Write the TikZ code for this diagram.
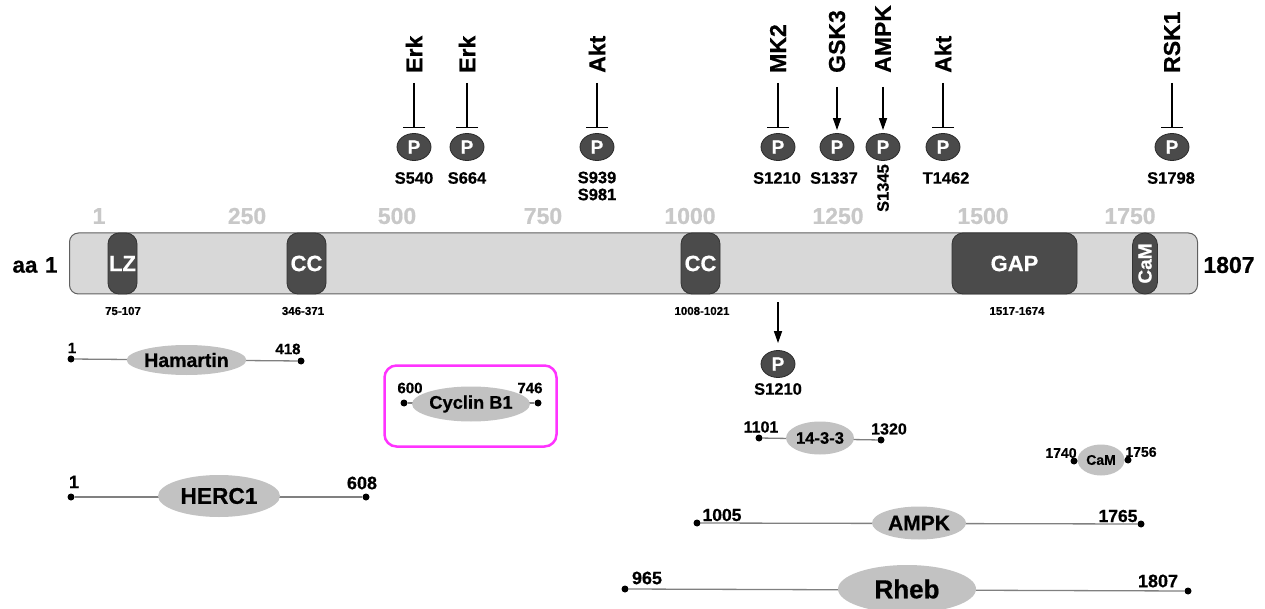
\documentclass[tikz,border=0pt]{standalone}
\usepackage{fontspec}
\setmainfont{Liberation Sans}[BoldFeatures={FakeBold=0.6}]
\usetikzlibrary{shapes.geometric,arrows.meta,backgrounds}
\newcommand\FS[1]{\fontsize{#1}{#1}\selectfont\bfseries}
\definecolor{barfill}{HTML}{D8D8D8}
\definecolor{bardraw}{HTML}{606060}
\definecolor{domfill}{HTML}{4B4B4B}
\definecolor{domdraw}{HTML}{333333}
\definecolor{pfill}{HTML}{4A4A4A}
\definecolor{pdraw}{HTML}{2A2A2A}
\definecolor{scalegray}{HTML}{C8C8C8}
\definecolor{linegray}{HTML}{808080}
\definecolor{ellgray}{HTML}{C2C2C2}
\definecolor{boxmag}{HTML}{FF33FF}
\begin{document}
\begin{tikzpicture}[x=1pt,y=-1pt,
  txt/.style={inner sep=0pt, font=\FS{#1}},
  dom/.style={draw=domdraw, fill=domfill, line width=0.8pt, rounded corners=11pt, minimum height=61pt, inner sep=0pt, text=white, font=\FS{22}},
  kin/.style={txt=23, rotate=90, anchor=west},
  ph/.style={ellipse, draw=pdraw, fill=pfill, line width=0.8pt, minimum width=34pt, minimum height=27pt, inner sep=0pt, text=white, font=\FS{19}},
  inh/.style={line width=1.5pt, -{Bar[width=22pt,line width=1.5pt]}, shorten <=10pt, shorten >=5pt},
  act/.style={line width=1.5pt, -{Triangle[length=12pt,width=8pt]}, shorten <=14pt, shorten >=3pt},
  dot/.style={circle, fill=black, minimum size=7pt, inner sep=0pt},
  pl/.style={draw=linegray, line width=1.3pt},
  pe/.style={ellipse, fill=ellgray, inner sep=0pt},
]
\useasboundingbox (0,0) rectangle (1265,609);

% main protein bar
\node[draw=bardraw, fill=barfill, line width=1pt, rounded corners=9pt, minimum width=1128pt, minimum height=61pt, inner sep=0pt] (bar) at (633.5,263.5) {};
\node[dom, minimum width=29pt] (lz) at (122.5,263.5) {LZ};
\node[dom, minimum width=39pt] (cc1) at (306.5,263.5) {CC};
\node[dom, minimum width=39pt] (cc2) at (700.5,263.5) {CC};
\node[dom, minimum width=125pt] (gap) at (1014.5,263.5) {GAP};
\node[dom, minimum width=25pt, rounded corners=12pt] (cam) at (1145,263.5) {};
\node[txt=19, text=white, rotate=90] (camt) at (cam) {CaM};

\node[txt=22.5] (aa) at (35,265) {aa\,\,1};
\node[txt=23] (endl) at (1229,265) {1807};

% scale
\node[txt=23, text=scalegray] (sc1) at (99,216) {1};
\node[txt=23, text=scalegray] (sc2) at (247,216) {250};
\node[txt=23, text=scalegray] (sc3) at (397,216) {500};
\node[txt=23, text=scalegray] (sc4) at (543,216) {750};
\node[txt=23, text=scalegray] (sc5) at (690,216) {1000};
\node[txt=23, text=scalegray] (sc6) at (838,216) {1250};
\node[txt=23, text=scalegray] (sc7) at (983,216) {1500};
\node[txt=23, text=scalegray] (sc8) at (1130,216) {1750};

% domain ranges
\node[txt=11.5] (r1) at (123,311) {75-107};
\node[txt=11.5] (r2) at (303,311) {346-371};
\node[txt=11.5] (r3) at (702,311) {1008-1021};
\node[txt=11.5] (r4) at (1017,311) {1517-1674};

% phosphorylation sites
\node[kin] (k1) at (414,73) {Erk};
\node[kin] (k2) at (467,73) {Erk};
\node[kin] (k3) at (597,73) {Akt};
\node[kin] (k4) at (778,73) {MK2};
\node[kin] (k5) at (837,73) {GSK3};
\node[kin] (k6) at (883,73) {AMPK};
\node[kin] (k7) at (943,73) {Akt};
\node[kin] (k8) at (1172,73) {RSK1};

\node[ph] (p1) at (414,147) {P};
\node[ph] (p2) at (467,147) {P};
\node[ph] (p3) at (597,147) {P};
\node[ph] (p4) at (778,147) {P};
\node[ph] (p5) at (837,147) {P};
\node[ph] (p6) at (883,147) {P};
\node[ph] (p7) at (943,147) {P};
\node[ph] (p8) at (1172,147) {P};

\node[txt=16.5] (s1) at (414,178) {S540};
\node[txt=16.5] (s2) at (467,178) {S664};
\node[inner sep=0pt, font=\fontsize{16.5}{17}\selectfont\bfseries, align=center] (s3) at (597,186) {S939\\S981};
\node[txt=16.5] (s4) at (777,178) {S1210};
\node[txt=16.5] (s5) at (834,178) {S1337};
\node[txt=16.5, rotate=90, anchor=east] (s6) at (883,164) {S1345};
\node[txt=16.5] (s7) at (946,178) {T1462};
\node[txt=16.5] (s8) at (1171,178) {S1798};

\draw[inh] (k1.west) -- (p1.north);
\draw[inh] (k2.west) -- (p2.north);
\draw[inh] (k3.west) -- (p3.north);
\draw[inh] (k4.west) -- (p4.north);
\draw[act] (k5.west) -- (p5.north);
\draw[act] (k6.west) -- (p6.north);
\draw[inh] (k7.west) -- (p7.north);
\draw[inh] (k8.west) -- (p8.north);

% S1210 below the bar
\node[ph] (p9) at (778,364) {P};
\node[txt=16.5] (s9) at (778,389) {S1210};
\draw[line width=1.5pt, -{Triangle[length=12pt,width=8pt]}, shorten <=8pt, shorten >=7pt] (bar.south -| p9) -- (p9.north);

% Hamartin
\node[pe, minimum width=119pt, minimum height=30pt, font=\FS{19.5}] (ham) at (186.5,360) {Hamartin};
\node[dot] (h1) at (71,359) {};
\node[dot] (h2) at (301,361) {};
\node[txt=15] (h1l) at (72,348) {1};
\node[txt=15] (h2l) at (288,349) {418};

% Cyclin B1
\node[draw=boxmag, line width=2.5pt, rounded corners=12pt, minimum width=172pt, minimum height=81pt, inner sep=0pt] (cbox) at (470.5,406) {};
\node[pe, minimum width=96pt, minimum height=35pt, font=\FS{18.3}] (cyc) at (471,404) {Cyclin B1};
\node[dot] (c1) at (404,403) {};
\node[dot] (c2) at (538,403) {};
\node[txt=15] (c1l) at (410,388) {600};
\node[txt=15] (c2l) at (530,388) {746};

% HERC1
\node[pe, minimum width=122pt, minimum height=42pt, font=\FS{22.7}] (herc) at (219,496) {HERC1};
\node[dot] (e1) at (71,497) {};
\node[dot] (e2) at (366,497) {};
\node[txt=18] (e1l) at (74,482) {1};
\node[txt=18] (e2l) at (362,483) {608};

% 14-3-3
\node[pe, minimum width=65pt, minimum height=33pt, font=\FS{16.6}] (yw) at (820,438) {14-3-3};
\node[dot] (y1) at (759,438) {};
\node[dot] (y2) at (881,440) {};
\node[txt=16] (y1l) at (761,427) {1101};
\node[txt=16] (y2l) at (889,429) {1320};

% CaM
\node[pe, minimum width=47pt, minimum height=31pt, font=\FS{14}] (camb) at (1101,460) {CaM};
\node[dot] (m1) at (1074,461) {};
\node[dot] (m2) at (1128,460) {};
\node[txt=14] (m1l) at (1061,453) {1740};
\node[txt=14] (m2l) at (1141,452) {1756};

% AMPK
\node[pe, minimum width=94pt, minimum height=33pt, font=\FS{21}] (ampk) at (919,523) {AMPK};
\node[dot] (a1) at (697,523) {};
\node[dot] (a2) at (1141,524) {};
\node[txt=17.5] (a1l) at (722,515) {1005};
\node[txt=17.5] (a2l) at (1118,516) {1765};

% Rheb
\node[pe, minimum width=138pt, minimum height=48pt, font=\FS{26}] (rheb) at (907,589) {Rheb};
\node[dot] (b1) at (625,589) {};
\node[dot] (b2) at (1188,591) {};
\node[txt=18] (b1l) at (647,578) {965};
\node[txt=18] (b2l) at (1158,581) {1807};

\begin{scope}[on background layer]
\draw[pl] (h1) -- (h2);
\draw[pl] (c1) -- (c2);
\draw[pl] (e1) -- (e2);
\draw[pl] (y1) -- (y2);
\draw[pl] (m1) -- (m2);
\draw[pl] (a1) -- (a2);
\draw[pl] (b1) -- (b2);
\end{scope}
\end{tikzpicture}
\end{document}
